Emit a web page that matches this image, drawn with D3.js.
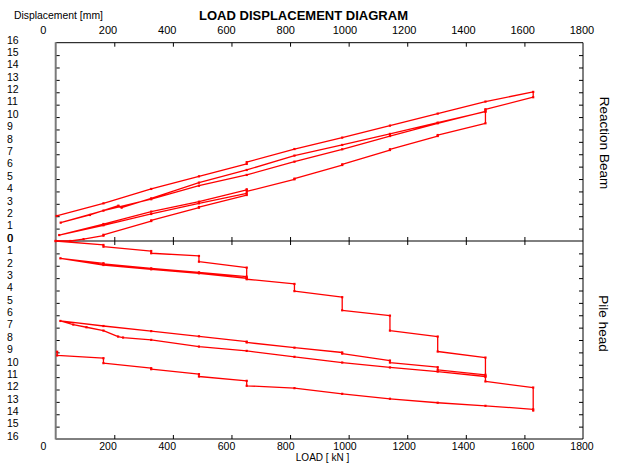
<!DOCTYPE html>
<html>
<head>
<meta charset="utf-8">
<script src="https://cdn.jsdelivr.net/npm/d3@7/dist/d3.min.js"></script>
<style>
html,body{margin:0;padding:0;background:#fff;}
svg{display:block;font-family:"Liberation Sans",Arial,sans-serif;}
</style>
</head>
<body>
<svg id="chart" width="621" height="463"></svg>
<script>
// ---------- data ----------
const xTickValues = [0, 200, 400, 600, 800, 1000, 1200, 1400, 1600, 1800];
const yTickValues = [0, 1, 2, 3, 4, 5, 6, 7, 8, 9, 10, 11, 12, 13, 14, 15, 16];

// Reaction beam (upper panel): load [kN] and displacement [mm]
const beamLoad = [0, 50, 95, 163, 163, 326, 326, 489, 489, 652, 652,
  652, 489, 326, 163, 12,
  163, 326, 489, 652, 652,
  815, 815, 978, 978, 1141, 1141, 1304, 1304, 1467, 1467,
  1467, 1304, 1141, 978, 815, 652, 489, 326, 163, 17,
  117, 214, 225, 326, 489, 652, 815, 978, 1141, 1304, 1467, 1467,
  1630, 1630,
  1467, 1304, 1141, 978, 815, 652, 652, 489, 326, 163, 3];
const beamDisp = [0, 0, 0.15, 0.43, 0.50, 1.61, 1.66, 2.69, 2.74, 3.71, 4.17,
  3.85, 3.04, 2.18, 1.27, 0.48,
  1.37, 2.37, 3.17, 4.12, 4.00,
  4.98, 5.03, 6.13, 6.18, 7.34, 7.40, 8.47, 8.55, 9.50, 10.60,
  10.45, 9.50, 8.47, 7.40, 6.40, 5.33, 4.46, 3.37, 2.45, 1.48,
  2.10, 2.85, 2.69, 3.44, 4.71, 5.73, 6.89, 7.75, 8.64, 9.55, 10.44, 10.62,
  11.60, 12.03,
  11.25, 10.28, 9.31, 8.34, 7.42, 6.36, 6.22, 5.22, 4.20, 3.04, 2.02];

// Pile head (lower panel): load [kN] and settlement [mm]
const pileLoad = [0, 163, 163, 326, 326, 489, 489, 652, 652,
  652, 489, 326, 163, 163, 16,
  163, 326, 489, 652, 652,
  815, 815, 978, 978, 1141, 1141, 1304, 1304, 1467, 1467,
  1467, 1304, 1304, 1141, 1141, 978, 978, 815, 652, 652, 489, 326, 163, 16,
  60, 105, 163, 213, 230, 326, 489, 652, 815, 978, 1141, 1304, 1467, 1467,
  1630, 1630,
  1630, 1467, 1304, 1141, 978, 815, 652, 652, 489, 489, 326, 326, 163, 163, 5, 5];
const pileDisp = [0, 0.32, 0.46, 0.81, 0.99, 1.21, 1.67, 2.15, 3.01,
  2.88, 2.53, 2.21, 1.85, 1.80, 1.40,
  1.94, 2.29, 2.61, 3.01, 3.09,
  3.47, 4.05, 4.54, 5.60, 6.03, 7.24, 7.72, 8.93, 9.42, 10.95,
  10.81, 10.41, 10.20, 9.82, 9.66, 9.10, 9.01, 8.62, 8.20, 8.13, 7.70, 7.28, 6.87, 6.46,
  6.75, 6.97, 7.24, 7.72, 7.80, 7.99, 8.53, 8.88, 9.36, 9.82, 10.22, 10.55, 10.95, 11.35,
  11.84, 13.70,
  13.60, 13.32, 13.07, 12.75, 12.35, 11.89, 11.70, 11.30, 10.95, 10.76, 10.36, 10.28, 9.87, 9.47, 9.25, 8.95];

// ---------- scales ----------
const svg = d3.select("#chart");
const x = d3.scaleLinear().domain([0, 1800]).range([55.7, 583]);
const xLabel = d3.scaleLinear().domain([200, 1800]).range([108, 582]);
const yTop = d3.scaleLinear().domain([0, 16]).range([241, 42.7]);
const yBot = d3.scaleLinear().domain([0, 16]).range([241, 439]);

// ---------- frame & ticks ----------
const g = svg.append("g");
function tickAxis(axis, tx, ty) {
  const a = g.append("g").attr("transform", `translate(${tx},${ty})`).call(axis);
  a.select(".domain").remove();
  a.selectAll("line").attr("stroke", "#000").attr("stroke-width", 1);
  return a;
}
const innerX = xTickValues.slice(1, -1);
tickAxis(d3.axisTop(x).tickValues(innerX).tickSize(-4).tickFormat(""), 0, yTop(16));
tickAxis(d3.axisBottom(x).tickValues(innerX).tickSize(-4).tickFormat(""), 0, yBot(16));
tickAxis(d3.axisBottom(x).tickValues(innerX).tickSize(4).tickFormat(""), 0, yTop(0));
tickAxis(d3.axisBottom(x).tickValues(innerX).tickSize(-4).tickFormat(""), 0, yTop(0));
const innerY = yTickValues.slice(1, -1);
tickAxis(d3.axisLeft(yTop).tickValues(innerY).tickSize(-4).tickFormat(""), x(0), 0);
tickAxis(d3.axisLeft(yBot).tickValues(innerY).tickSize(-4).tickFormat(""), x(0), 0);
tickAxis(d3.axisRight(yTop).tickValues(innerY).tickSize(-4).tickFormat(""), x(1800), 0);
tickAxis(d3.axisRight(yBot).tickValues(innerY).tickSize(-4).tickFormat(""), x(1800), 0);

// frame lines
g.append("line").attr("x1", x(0)).attr("x2", x(1800)).attr("y1", yTop(16)).attr("y2", yTop(16)).attr("stroke", "#000");
g.append("line").attr("x1", x(0)).attr("x2", x(1800)).attr("y1", yBot(16)).attr("y2", yBot(16)).attr("stroke", "#000");
g.append("line").attr("x1", x(0)).attr("x2", x(1800)).attr("y1", yTop(0)).attr("y2", yTop(0)).attr("stroke", "#000");
g.append("line").attr("x1", x(1800)).attr("x2", x(1800)).attr("y1", yTop(16)).attr("y2", yBot(16)).attr("stroke", "#000");
g.append("line").attr("x1", x(0)).attr("x2", x(0)).attr("y1", yTop(16) - 0.5).attr("y2", yBot(16) + 0.5).attr("stroke", "#7a7a7a").attr("stroke-width", 2);

// ---------- data lines ----------
const plot = svg.append("g");
function series(loads, disps, yScale) {
  const pts = loads.map((l, i) => [l, disps[i]]);
  const line = d3.line().x(d => x(d[0])).y(d => yScale(d[1]));
  plot.append("path").datum(pts).attr("d", line)
    .attr("fill", "none").attr("stroke", "#ff0000").attr("stroke-width", 1.3)
    .attr("stroke-linejoin", "round");
  plot.append("g").selectAll("rect").data(pts).join("rect")
    .attr("x", d => x(d[0]) - 1.1).attr("y", d => yScale(d[1]) - 1.1)
    .attr("width", 2.2).attr("height", 2.2).attr("fill", "#ff0000");
}
series(beamLoad, beamDisp, yTop);
series(pileLoad, pileDisp, yBot);

// ---------- text ----------
const txt = svg.append("g").attr("fill", "#000");
// x tick labels, top and bottom
xTickValues.forEach(v => {
  const px = v === 0 ? 43.3 : xLabel(v);
  txt.append("text").attr("x", px).attr("y", 34).attr("text-anchor", "middle")
    .attr("font-size", 11).text(v);
  txt.append("text").attr("x", px).attr("y", 449.8).attr("text-anchor", "middle")
    .attr("font-size", 10.5).text(v);
});
// y tick labels
yTickValues.forEach(v => {
  txt.append("text").attr("x", 7).attr("y", yTop(v) + 0.8).attr("font-size", 10.5).text(v);
  if (v > 0) txt.append("text").attr("x", 7).attr("y", yBot(v) + 0.8).attr("font-size", 10.5).text(v);
  else txt.append("text").attr("x", 7.6).attr("y", yBot(v) + 0.8).attr("font-size", 10.5).text(v);
});

txt.append("text").attr("x", 199).attr("y", 20).attr("font-size", 13).attr("font-weight", "bold")
  .attr("textLength", 209).attr("lengthAdjust", "spacingAndGlyphs").text("LOAD DISPLACEMENT DIAGRAM");
txt.append("text").attr("x", 14).attr("y", 19).attr("font-size", 10.4).text("Displacement [mm]");
txt.append("text").attr("x", 322.5).attr("y", 460.9).attr("text-anchor", "middle").attr("font-size", 10).text("LOAD [ kN ]");
txt.append("text").attr("transform", "translate(599.5,143) rotate(90)").attr("text-anchor", "middle")
  .attr("font-size", 13.5).text("Reaction Beam");
txt.append("text").attr("transform", "translate(599,323.5) rotate(90)").attr("text-anchor", "middle")
  .attr("font-size", 13.5).text("Pile head");
</script>
</body>
</html>
